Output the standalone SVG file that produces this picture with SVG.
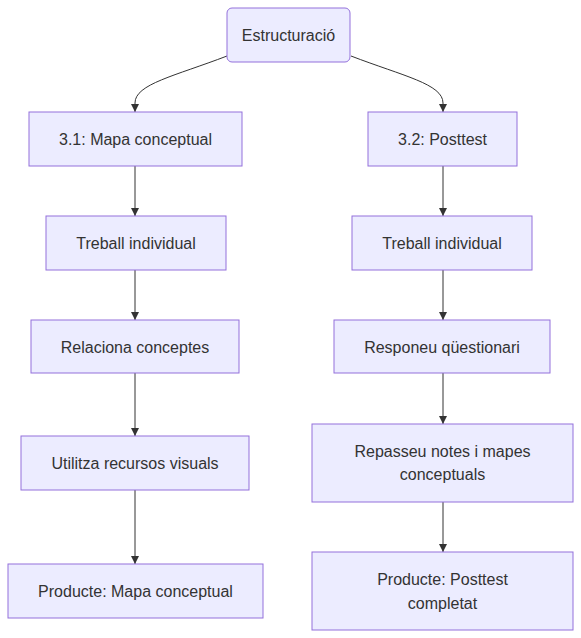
<svg xmlns="http://www.w3.org/2000/svg" width="581" height="638" viewBox="0 0 581 638">
<style>
.n rect{fill:#ECECFF;stroke:#9370DB;stroke-width:1}
.n text{font-family:"Liberation Sans",Arial,sans-serif;font-size:16px;fill:#333;text-anchor:middle;dominant-baseline:central}
.e path{fill:none;stroke:#333;stroke-width:1}
</style>
<defs>
<marker id="arr" viewBox="0 0 10 10" refX="10" refY="5" markerWidth="8" markerHeight="8" markerUnits="userSpaceOnUse" orient="auto">
<path d="M0,0 L10,5 L0,10 z" fill="#333"/>
</marker>
</defs>
<rect width="581" height="638" fill="#fff"/>
<g class="e">
<path d="M227,56 C175,76 135,84 135,103 L135,112" marker-end="url(#arr)"/>
<path d="M351,56 C403,76 443,84 443,103 L443,112" marker-end="url(#arr)"/>
<path d="M135,166 L135,216" marker-end="url(#arr)"/>
<path d="M135,270 L135,320" marker-end="url(#arr)"/>
<path d="M135,373 L135,436" marker-end="url(#arr)"/>
<path d="M135,490 L135,564" marker-end="url(#arr)"/>
<path d="M443,166 L443,216" marker-end="url(#arr)"/>
<path d="M443,270 L443,320" marker-end="url(#arr)"/>
<path d="M443,373 L443,424" marker-end="url(#arr)"/>
<path d="M443,502 L443,552" marker-end="url(#arr)"/>
</g>
<g id="estructuracio" class="n"><rect x="227" y="8" width="123" height="54" rx="5" ry="5"/><text x="288.5" y="35">Estructuració</text></g>
<g id="mapa" class="n"><rect x="29" y="112" width="213" height="54"/><text x="135.5" y="139">3.1: Mapa conceptual</text></g>
<g id="treball1" class="n"><rect x="46" y="216" width="180" height="54"/><text x="136" y="243">Treball individual</text></g>
<g id="relaciona" class="n"><rect x="31" y="320" width="208" height="53"/><text x="135" y="347">Relaciona conceptes</text></g>
<g id="utilitza" class="n"><rect x="21" y="436" width="228" height="54"/><text x="135" y="463">Utilitza recursos visuals</text></g>
<g id="producte1" class="n"><rect x="8" y="564" width="255" height="54"/><text x="135.5" y="591">Producte: Mapa conceptual</text></g>
<g id="posttest" class="n"><rect x="368" y="112" width="149" height="54"/><text x="442.5" y="139">3.2: Posttest</text></g>
<g id="treball2" class="n"><rect x="352" y="216" width="180" height="54"/><text x="442" y="243">Treball individual</text></g>
<g id="responeu" class="n"><rect x="334" y="320" width="216" height="53"/><text x="442" y="347">Responeu qüestionari</text></g>
<g id="repasseu" class="n"><rect x="312" y="424" width="261" height="78"/><text x="442.5" y="451">Repasseu notes i mapes</text><text x="442.5" y="474">conceptuals</text></g>
<g id="producte2" class="n"><rect x="312" y="552" width="261" height="78"/><text x="442.5" y="579">Producte: Posttest</text><text x="442.5" y="603">completat</text></g>
</svg>
